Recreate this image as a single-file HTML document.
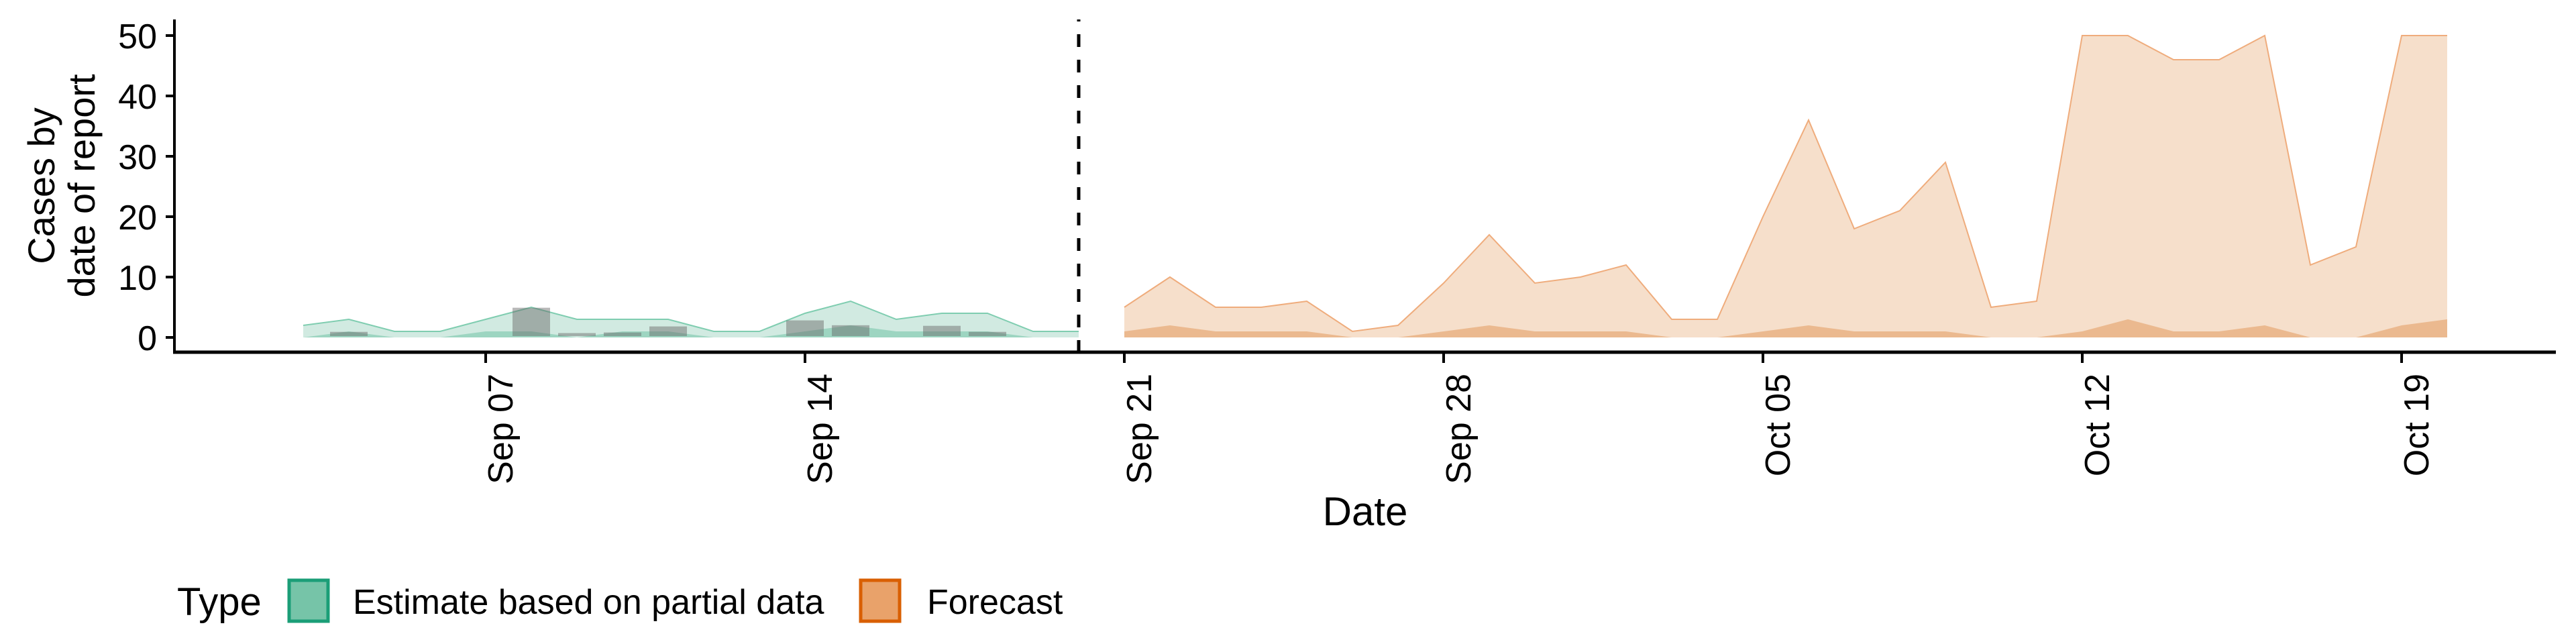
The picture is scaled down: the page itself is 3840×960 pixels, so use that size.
<!DOCTYPE html>
<html><head><meta charset="utf-8"><style>
html,body{margin:0;padding:0;background:#fff;}
svg{display:block;font-family:"Liberation Sans",sans-serif;}
</style></head><body>
<svg id="chart" width="3840" height="960" viewBox="0 0 3840 960" xmlns="http://www.w3.org/2000/svg">
<g id="bands"></g>
<g id="axes"></g>
</svg>
<script>
// ---- data ----
const estDays = [-4,-3,-2,-1,0,1,2,3,4,5,6,7,8,9,10,11,12,13]; // days from Sep 07 (Sep 03..Sep 20)
const estUpper = [2,3,1,1,3,5,3,3,3,1,1,4,6,3,4,4,1,1];
const estLower = [0,1,0,0,1,1,0,1,1,0,0,1,2,1,1,1,0,0];
const fcDays = [14,15,16,17,18,19,20,21,22,23,24,25,26,27,28,29,30,31,32,33,34,35,36,37,38,39,40,41,42,43]; // Sep 21..Oct 20
const fcUpper = [5,10,5,5,6,1,2,9,17,9,10,12,3,3,20,36,18,21,29,5,6,50,50,46,46,50,12,15,50,50];
const fcLower = [1,2,1,1,1,0,0,1,2,1,1,1,0,0,1,2,1,1,1,0,0,1,3,1,1,2,0,0,2,3];
const obsDays = [-3,1,2,3,4,7,8,10,11];
const obsCases = [0.7,4.7,0.5,0.6,1.6,2.6,1.8,1.7,0.7];
const yTicks = [0,10,20,30,40,50];
const xTickDays = [0,7,14,21,28,35,42];
const xTickLabels = ["Sep 07","Sep 14","Sep 21","Sep 28","Oct 05","Oct 12","Oct 19"];
const forecastStartDay = 13;

// ---- scales ----
const NS='http://www.w3.org/2000/svg';
function xS(d){return 724 + 68*d;}
function yS(v){return 503 - 9*v;}
const bands=document.getElementById('bands');
const axes=document.getElementById('axes');
function mk(tag,attrs,parent){const e=document.createElementNS(NS,tag);for(const k in attrs)e.setAttribute(k,attrs[k]);parent.appendChild(e);return e;}
function area(days,up,lo){let p='';for(let i=0;i<days.length;i++)p+=(i?'L':'M')+xS(days[i])+','+yS(up[i]);for(let i=days.length-1;i>=0;i--)p+='L'+xS(days[i])+','+yS(lo[i]);return p+'Z';}
function line(days,vals){let p='';for(let i=0;i<days.length;i++)p+=(i?'L':'M')+xS(days[i])+','+yS(vals[i]);return p;}
const zeros=a=>a.map(()=>0);

let e;
e=mk('path',{d:area(estDays,estUpper,zeros(estDays)),fill:'#d1eae1'},bands);


e=mk('path',{d:line(estDays,estUpper),fill:'none',stroke:'#7fcdb0','stroke-width':2},bands);


e=mk('path',{d:area(estDays,estLower,zeros(estDays)),fill:'#9dd5c1'},bands);



e=mk('path',{d:area(fcDays,fcUpper,zeros(fcDays)),fill:'#f6dfcb'},bands);


e=mk('path',{d:line(fcDays,fcUpper),fill:'none',stroke:'#efac7c','stroke-width':2},bands);


e=mk('path',{d:area(fcDays,fcLower,zeros(fcDays)),fill:'#ebb98f'},bands);



for(let i=0;i<obsDays.length;i++){
  const x=xS(obsDays[i])-28, y=yS(obsCases[i])-2;
  e=mk('rect',{x:x,y:y,width:56,height:Math.max(0,501-y),fill:'rgb(100,100,100)','fill-opacity':0.45},bands);
  
  
}

// forecast start line
e=mk('line',{x1:xS(forecastStartDay),x2:xS(forecastStartDay),y1:29,y2:525,stroke:'#000','stroke-width':5,'stroke-dasharray':'19 19','stroke-dashoffset':16},axes);



// axes lines
e=mk('line',{x1:260,x2:260,y1:29,y2:527,stroke:'#000','stroke-width':4},axes);


e=mk('line',{x1:258,x2:3810,y1:525,y2:525,stroke:'#000','stroke-width':5},axes);



for(const v of yTicks){
  e=mk('line',{x1:247,x2:260,y1:yS(v),y2:yS(v),stroke:'#000','stroke-width':4},axes);
  
  
  e=mk('text',{x:234,y:yS(v)+19,'text-anchor':'end','font-size':52,fill:'#000'},axes);
  e.textContent=v;
  
  
}
for(let i=0;i<xTickDays.length;i++){
  const x=xS(xTickDays[i]);
  e=mk('line',{x1:x,x2:x,y1:527,y2:541,stroke:'#000','stroke-width':4},axes);
  
  
  e=mk('text',{x:0,y:0,'text-anchor':'end','font-size':52,fill:'#000',transform:'translate('+(x+40)+',557) rotate(-90)'},axes);
  e.textContent=xTickLabels[i];
  
  
}

// titles
e=mk('text',{x:2035,y:783,'text-anchor':'middle','font-size':60,fill:'#000'},axes);
e.textContent='Date';


e=mk('text',{'text-anchor':'middle','font-size':56,fill:'#000',transform:'translate(81,277) rotate(-90)'},axes);
e.textContent='Cases by';


e=mk('text',{'text-anchor':'middle','font-size':56,fill:'#000',transform:'translate(141,277) rotate(-90)'},axes);
e.textContent='date of report';



// legend
const lg=mk('g',{},axes);


e=mk('text',{x:264,y:917,'font-size':58,fill:'#000'},lg);
e.textContent='Type';


e=mk('rect',{x:431,y:865,width:58,height:61,fill:'#76c4a8',stroke:'#1b9e77','stroke-width':5},lg);


e=mk('text',{x:526,y:915,'font-size':52,fill:'#000'},lg);
e.textContent='Estimate based on partial data';


e=mk('rect',{x:1283,y:865,width:58,height:61,fill:'#e9a26a',stroke:'#d95f02','stroke-width':5},lg);


e=mk('text',{x:1382,y:915,'font-size':52,fill:'#000'},lg);
e.textContent='Forecast';


</script>
</body></html>
